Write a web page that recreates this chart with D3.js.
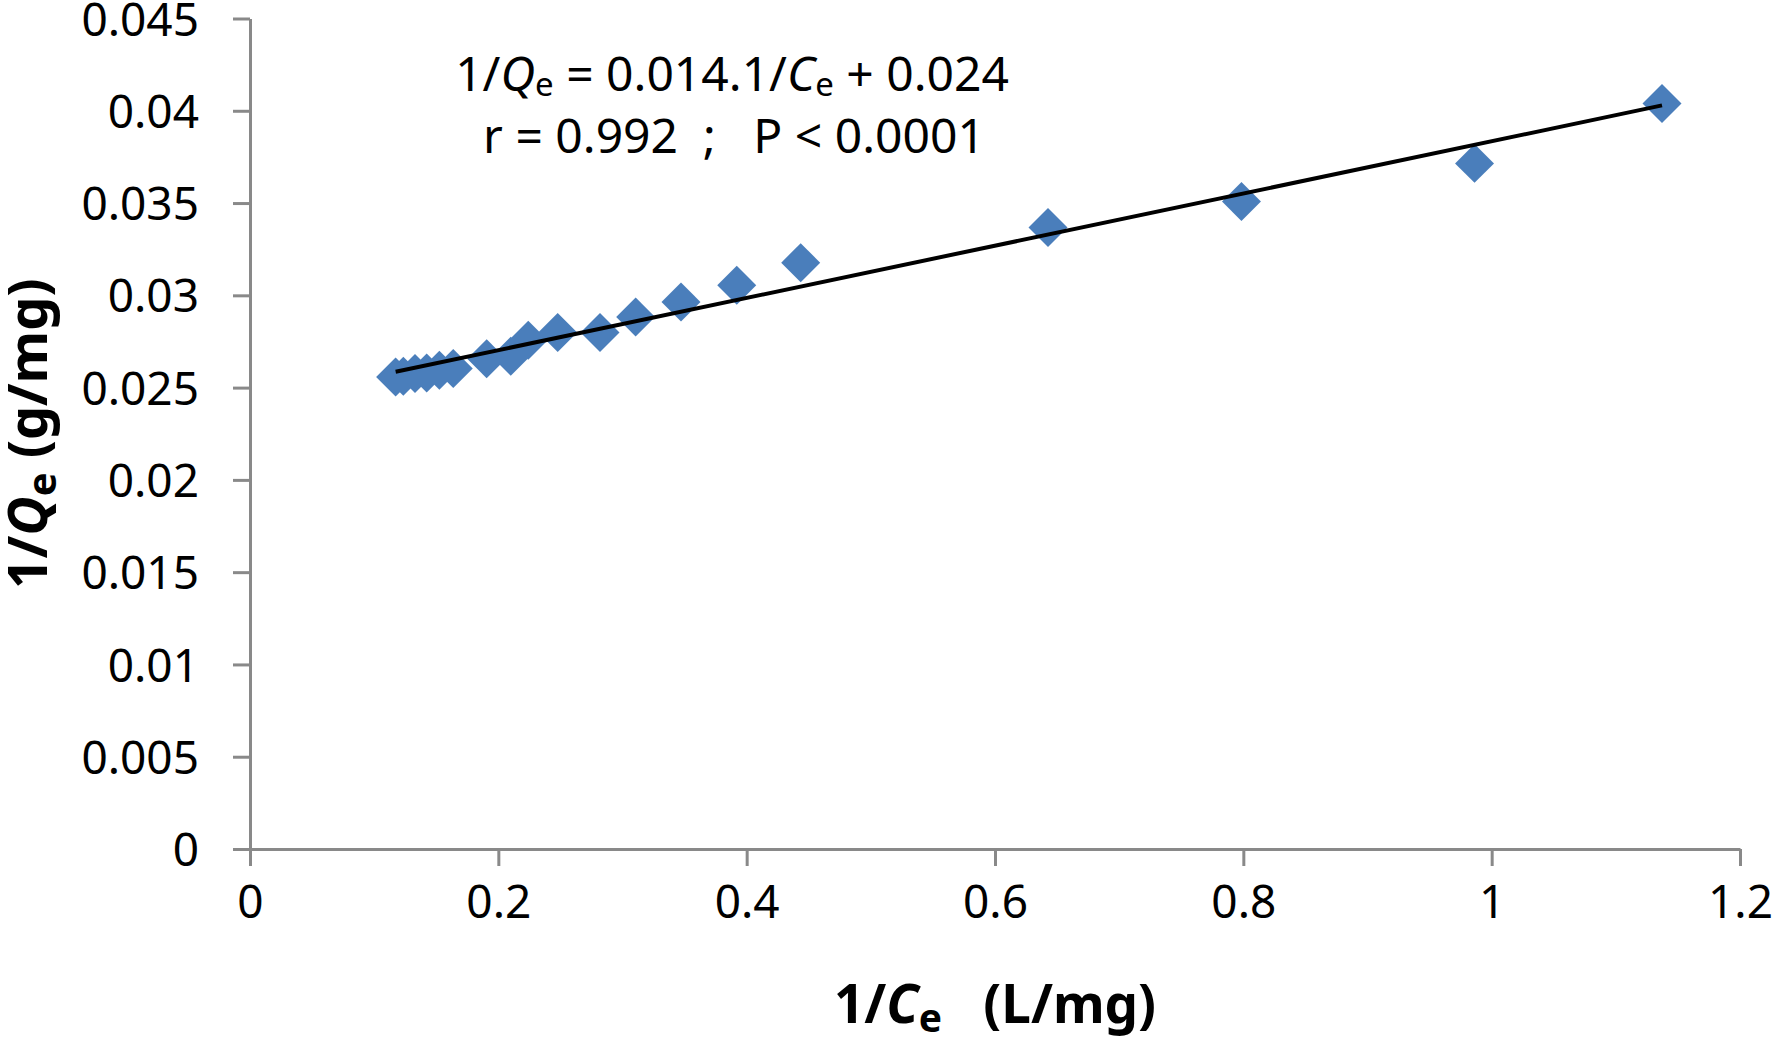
<!DOCTYPE html>
<html lang="en">
<head>
<meta charset="utf-8">
<title>Langmuir linear plot</title>
<script src="https://d3js.org/d3.v7.js"></script>
<style>
  body { margin: 0; background: #fff; }
  text { font-family: "Noto Sans", "Open Sans", sans-serif; }
</style>
</head>
<body>
<div id="my_dataviz"></div>
<script>
// data: 1/Ce (L/mg) and 1/Qe (g/mg)
const invCe = [0.1173, 0.1235, 0.1329, 0.1423, 0.1525, 0.1637, 0.1906, 0.2100,
               0.2241, 0.2478, 0.2819, 0.3106, 0.3471, 0.3920, 0.4435,
               0.6427, 0.7985, 0.9862, 1.1372];
const invQe = [0.02558, 0.02561, 0.02576, 0.02579, 0.02594, 0.02603, 0.02657, 0.02670,
               0.02756, 0.02798, 0.02798, 0.02883, 0.02964, 0.03054, 0.03177,
               0.03368, 0.03509, 0.03715, 0.0404];

// fitted line
const fitSlope = 0.01415;
const fitIntercept = 0.0242;

const xTicks = [0, 0.2, 0.4, 0.6, 0.8, 1, 1.2];
const xTickLabels = ["0", "0.2", "0.4", "0.6", "0.8", "1", "1.2"];
const yTicks = [0, 0.005, 0.01, 0.015, 0.02, 0.025, 0.03, 0.035, 0.04, 0.045];
const yTickLabels = ["0", "0.005", "0.01", "0.015", "0.02", "0.025", "0.03", "0.035", "0.04", "0.045"];

const W = 1772, H = 1040;
const margin = {top: 18.5, right: 32, bottom: 191, left: 250};

const svg = d3.select("#my_dataviz")
  .append("svg")
    .attr("width", W)
    .attr("height", H);

const x = d3.scaleLinear()
  .domain([0, 1.2])
  .range([margin.left, W - margin.right]);

const y = d3.scaleLinear()
  .domain([0, 0.045])
  .range([H - margin.bottom, margin.top]);

const axisColor = "#898989";

// X axis
const gx = svg.append("g")
  .attr("transform", `translate(0, ${y(0)})`)
  .call(d3.axisBottom(x)
    .tickValues(xTicks)
    .tickFormat((d, i) => xTickLabels[i])
    .tickSize(17)
    .tickSizeOuter(0)
    .tickPadding(19));

// Y axis
const gy = svg.append("g")
  .attr("transform", `translate(${x(0)}, 0)`)
  .call(d3.axisLeft(y)
    .tickValues(yTicks)
    .tickFormat((d, i) => yTickLabels[i])
    .tickSize(17)
    .tickSizeOuter(0)
    .tickPadding(34));

[gx, gy].forEach(g => {
  g.select(".domain").attr("stroke", axisColor).attr("stroke-width", 3);
  g.selectAll(".tick line").attr("stroke", axisColor).attr("stroke-width", 3);
  g.selectAll(".tick text")
    .attr("fill", "#000")
    .style("font-family", "'Noto Sans', sans-serif")
    .style("font-size", "46px");
});
gy.selectAll(".tick text").attr("dy", "0.36em");

// Add dots
const diamond = d3.symbol().type(d3.symbolSquare).size(760);
svg.append("g")
  .selectAll("path")
  .data(invCe.map((v, i) => [v, invQe[i]]))
  .enter()
  .append("path")
    .attr("d", diamond)
    .attr("transform", d => `translate(${x(d[0])}, ${y(d[1])}) rotate(45)`)
    .attr("fill", "#4a7ebb");

// regression line
const xExt = d3.extent(invCe);
svg.append("path")
  .datum(xExt.map(v => [v, fitSlope * v + fitIntercept]))
  .attr("fill", "none")
  .attr("stroke", "#000")
  .attr("stroke-width", 4)
  .attr("d", d3.line().x(d => x(d[0])).y(d => y(d[1])));

// equation
const eq = svg.append("g").style("font-size", "48px").attr("fill", "#000");
const l1 = eq.append("text").attr("x", 732).attr("y", 91).attr("text-anchor", "middle");
l1.append("tspan").text("1/");
l1.append("tspan").style("font-style", "italic").text("Q");
l1.append("tspan").style("font-size", "33px").attr("dy", 5).text("e");
l1.append("tspan").attr("dy", -5).text(" = 0.014.1/");
l1.append("tspan").style("font-style", "italic").text("C");
l1.append("tspan").style("font-size", "33px").attr("dy", 5).text("e");
l1.append("tspan").attr("dy", -5).text(" + 0.024");

eq.append("text")
  .attr("x", 734).attr("y", 153)
  .attr("text-anchor", "middle")
  .style("white-space", "pre")
  .text("r = 0.992  ;   P < 0.0001");

// X axis title
const xt = svg.append("text")
  .attr("x", (x(0) + x(1.2)) / 2)
  .attr("y", 1023)
  .attr("text-anchor", "middle")
  .style("font-size", "53px")
  .style("font-weight", "bold")
  .style("white-space", "pre");
xt.append("tspan").text("1/");
xt.append("tspan").style("font-style", "italic").text("C");
xt.append("tspan").style("font-size", "39px").attr("dy", 9).text("e");
xt.append("tspan").attr("dy", -9).text("   (L/mg)");

// Y axis title
const yt = svg.append("text")
  .attr("transform", `translate(47, ${(y(0) + y(0.045)) / 2}) rotate(-90)`)
  .attr("text-anchor", "middle")
  .style("font-size", "54px")
  .style("font-weight", "bold")
  .style("white-space", "pre");
yt.append("tspan").text("1/");
yt.append("tspan").style("font-style", "italic").text("Q");
yt.append("tspan").style("font-size", "40px").attr("dy", 9).text("e");
yt.append("tspan").attr("dy", -9).text(" (g/mg)");
</script>
</body>
</html>
